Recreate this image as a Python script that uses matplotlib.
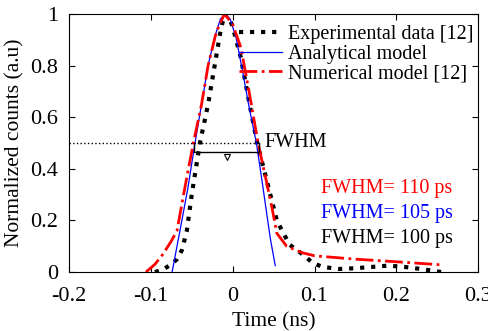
import matplotlib.pyplot as plt
import numpy as np

plt.rcParams['font.family'] = ['Liberation Serif', 'DejaVu Serif']
plt.rcParams['mathtext.fontset'] = 'stix'

# experimental data [12]
t_exp = [-0.095, -0.085, -0.075, -0.068, -0.062, -0.056, -0.05, -0.045, -0.04, -0.03, -0.022,
         -0.015, -0.01, -0.005, 0.0, 0.01, 0.02, 0.03, 0.042, 0.054, 0.062, 0.07, 0.085,
         0.098, 0.11, 0.13, 0.15, 0.17, 0.19, 0.21, 0.23, 0.245, 0.255]
y_exp = [0.0, 0.01, 0.03, 0.05, 0.085, 0.16, 0.3, 0.4, 0.5, 0.65, 0.8,
         0.93, 1.0, 0.99, 0.95, 0.83, 0.66, 0.5, 0.35, 0.2, 0.15, 0.105, 0.07,
         0.035, 0.02, 0.012, 0.015, 0.02, 0.025, 0.02, 0.012, 0.005, 0.0]

# analytical model
t_ana = [-0.074, -0.065, -0.055, -0.046, -0.038, -0.03, -0.022, -0.015, -0.009,
         -0.003, 0.004, 0.012, 0.02, 0.029, 0.036, 0.046, 0.052]
y_ana = [0.0, 0.15, 0.32, 0.5, 0.65, 0.8, 0.91, 0.98, 1.0,
         0.98, 0.91, 0.78, 0.64, 0.5, 0.35, 0.13, 0.025]

# numerical model [12]
t_num = [-0.106, -0.095, -0.085, -0.075, -0.068, -0.06, -0.048, -0.038, -0.03, -0.02,
         -0.01, 0.0, 0.01, 0.02, 0.031, 0.04, 0.048, 0.054, 0.066, 0.085, 0.1,
         0.15, 0.2, 0.255]
y_num = [0.0, 0.03, 0.07, 0.12, 0.16, 0.3, 0.5, 0.65, 0.8, 0.93,
         1.0, 0.96, 0.87, 0.7, 0.5, 0.37, 0.25, 0.15, 0.1, 0.075, 0.063,
         0.05, 0.04, 0.028]

fwhm_labels = ['FWHM= 110 ps', 'FWHM= 105 ps', 'FWHM= 100 ps']
fwhm_colors = ['red', 'blue', 'black']

fig = plt.figure(figsize=(4.89, 3.31), dpi=100)
ax = fig.add_axes([0.141, 0.178, 0.837, 0.78])

ax.plot(t_exp, y_exp, color='black', linestyle=':', linewidth=3, label='Experimental data [12]')
ax.plot(t_ana, y_ana, color='blue', linewidth=0.9, label='Analytical model')
ax.plot(t_num, y_num, color='red', linestyle='-.', linewidth=2, label='Numerical model [12]')

# FWHM marker
ax.plot([-0.2, 0.03], [0.5, 0.5], color='black', linestyle=':', linewidth=1)
ax.plot([-0.047, -0.047, 0.032, 0.032], [0.5, 0.465, 0.465, 0.5], color='black', linewidth=1)
ax.plot([-0.007], [0.447], marker='v', markersize=5, markerfacecolor='white',
        markeredgecolor='black', markeredgewidth=0.8, linestyle='none')
ax.text(0.039, 0.5, 'FWHM', fontsize=14.5, va='center')

for i, (lab, col) in enumerate(zip(fwhm_labels, fwhm_colors)):
    ax.text(0.108, 0.325 - 0.097 * i, lab, color=col, fontsize=14.5, va='center')

ax.set_xlim(-0.2, 0.3)
ax.set_ylim(0, 1)
ax.set_xticks(np.arange(-0.2, 0.31, 0.1))
ax.set_xticklabels(['-0.2', '-0.1', '0', '0.1', '0.2', '0.3'])
ax.set_yticks([0, 0.2, 0.4, 0.6, 0.8, 1])
ax.set_yticklabels(['0', '0.2', '0.4', '0.6', '0.8', '1'])
ax.tick_params(direction='in', top=True, right=True, labelsize=16, length=4)
ax.tick_params(axis='x', pad=11)
ax.tick_params(axis='y', pad=8)
ax.set_xlabel('Time (ns)', fontsize=15.5, labelpad=4)
ax.set_ylabel('Normalized counts (a.u)', fontsize=15.5, labelpad=4)

ax.legend(loc='upper right', bbox_to_anchor=(1.015, 1.0), frameon=False, fontsize=14.5,
          handlelength=2.1, borderaxespad=0.15, labelspacing=0.02, handletextpad=0.3)

fig.savefig('out.png', dpi=100)
